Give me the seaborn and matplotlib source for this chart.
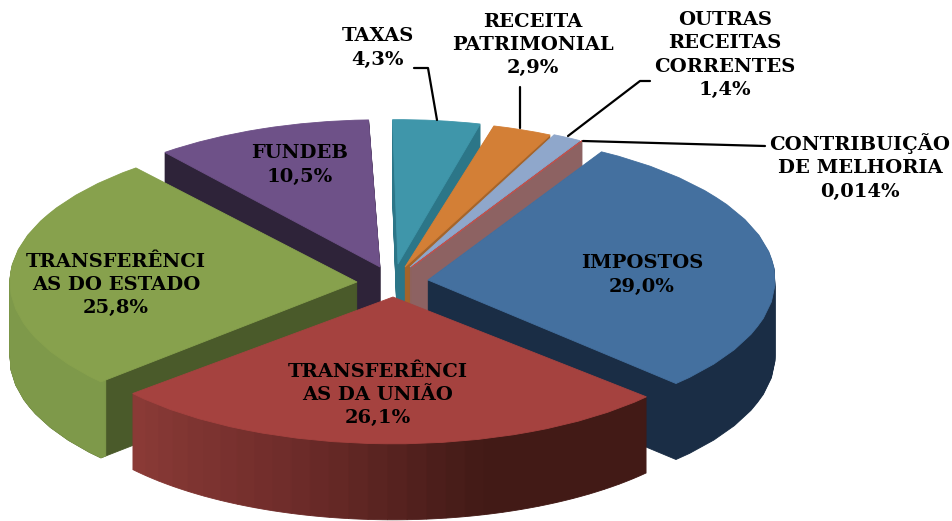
import numpy as np
import matplotlib
matplotlib.use("Agg")
import matplotlib.pyplot as plt
import matplotlib.transforms as mtrans
from matplotlib.path import Path
import seaborn as sns

# Data
names = ["IMPOSTOS", "TRANSFERÊNCI\nAS DA UNIÃO", "TRANSFERÊNCI\nAS DO ESTADO", "FUNDEB", "TAXAS",
         "RECEITA\nPATRIMONIAL", "OUTRAS\nRECEITAS\nCORRENTES", "CONTRIBUIÇÃO\nDE MELHORIA"]
values = [29.0, 26.1, 25.8, 10.5, 4.3, 2.9, 1.4, 0.014]
pct_labels = ["29,0%", "26,1%", "25,8%", "10,5%", "4,3%", "2,9%", "1,4%", "0,014%"]

# Styles
top_colors = ["#44709f", "#a5423f", "#87a14d", "#6e5188", "#3f96aa", "#d37f36", "#8fa7cb", "#c0504d"]
side_colors = ["#1a2d45", "#421a16", "#4a5a2a", "#2e2339", "#2c7688", "#a5642a", "#8d6262", "#8d6262"]
# pixel position of each slice's tip, its ellipse radii, a small turn and how much the far side shrinks
tips = [(428, 280), (393, 297), (357, 282), (380, 267), (398, 264), (405, 267), (410, 267), (412, 267)]
radii_x = [347, 337, 347, 352, 347, 347, 347, 347]
radii_y = [148, 138, 148, 156, 153, 155, 155, 155]
turns = [2, 2.5, 2.8, 3.0, 2, 0.8, 1, 1]
tilts = [0, 0.06, 0, 0.06, 0.06, 0.06, 0.06, 0.06]
label_pos = [(642, 275), (378, 395), (116, 285), (300, 165), (378, 48), (533, 45), (725, 55), (860, 167)]
DEPTH = 76
R = 100


class Tilt(mtrans.Transform):
    # flat pie plane -> picture pixels
    input_dims = output_dims = 2

    def __init__(self, tip, rx, ry, tilt, drop):
        super().__init__()
        self.tip, self.rx, self.ry, self.tilt, self.drop = tip, rx, ry, tilt, drop

    def transform_non_affine(self, values):
        u, v = np.asarray(values).T / R
        w = 1 + self.tilt * v
        return np.column_stack([self.tip[0] + self.rx * u / w,
                                self.tip[1] + self.drop - self.ry * v / w])

    def transform_path_non_affine(self, path):
        polys = path.to_polygons(closed_only=True)
        return Path(self.transform_non_affine(polys[0]), closed=True)


def draw_slice(i, start, sizes, colors, drop, width=None):
    rest = sum(values) - sum(sizes)
    props = {"linewidth": 0}
    if width:
        props["width"] = width
    wedges = ax.pie(list(sizes) + [rest], startangle=start, counterclock=False, radius=R,
                    colors=list(colors) + ["none"], wedgeprops=props)[0]
    wedges[-1].remove()
    for w in wedges[:-1]:
        w.set_edgecolor(w.get_facecolor())
        w.set_linewidth(0.6)
        w.set_transform(Tilt(tips[i], radii_x[i], radii_y[i], tilts[i], drop) + ax.transData)


sns.set_theme(style="white")
fig, ax = plt.subplots(figsize=(9.53, 5.21), dpi=100)
fig.subplots_adjust(0, 0, 1, 1)

starts = 58 + np.array(turns) - 3.6 * np.concatenate([[0], np.cumsum(values)[:-1]])
red_shades = sns.blend_palette(["#421a16", "#421a16", "#6e2c2a", "#8a3a36"], 30)

# back slices first, red one last
for i in [3, 4, 5, 6, 7, 2, 0, 1]:
    for drop in range(DEPTH, 0, -1):
        if i == 1:
            draw_slice(i, starts[i], [values[i] / 30] * 30, red_shades, drop, width=3)
        else:
            draw_slice(i, starts[i], [values[i]], [side_colors[i]], drop)
    if i == 2:
        # outer wall of the green slice is light
        for drop in range(DEPTH, 0, -1):
            draw_slice(i, starts[i], [values[i]], ["#7e994a"], drop, width=2)
    draw_slice(i, starts[i], [values[i]], [top_colors[i]], 0)

ax.set_aspect("auto")
ax.set_xlim(0, 953)
ax.set_ylim(521, 0)
ax.axis("off")

# leader lines
ax.plot([414, 428, 437], [68, 68, 120], color="black", lw=1.6)
ax.plot([520, 520], [87, 128], color="black", lw=1.6)
ax.plot([650, 640, 568], [81, 81, 136], color="black", lw=1.6)
ax.plot([765, 583], [146, 141], color="black", lw=1.6)

for name, pct, pos in zip(names, pct_labels, label_pos):
    ax.text(pos[0], pos[1], name + "\n" + pct, ha="center", va="center", family="DejaVu Serif",
            fontweight="bold", fontsize=14, color="black", linespacing=1.36)

fig.savefig("out.png", dpi=100)
